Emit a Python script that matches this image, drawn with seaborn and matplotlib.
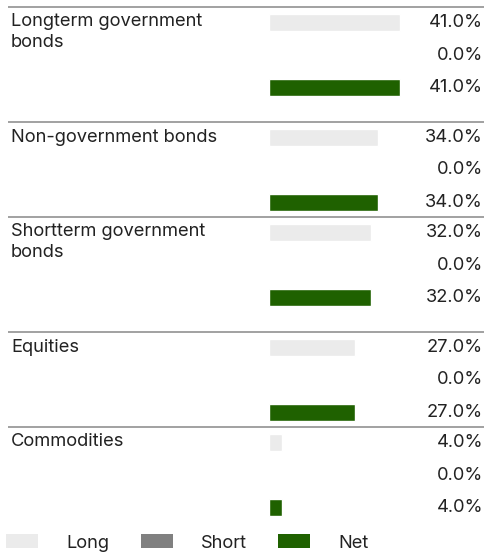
import numpy as np
import pandas as pd
import matplotlib
matplotlib.use("Agg")
import matplotlib.pyplot as plt
import matplotlib.transforms as mtransforms
from matplotlib.patches import Patch
import seaborn as sns

# data
categories = ["Longterm government\nbonds", "Non-government bonds",
              "Shortterm government\nbonds", "Equities", "Commodities"]
long_vals = [41.0, 34.0, 32.0, 27.0, 4.0]
short_vals = [0.0, 0.0, 0.0, 0.0, 0.0]
net_vals = [41.0, 34.0, 32.0, 27.0, 4.0]
series = ["Long", "Short", "Net"]
colors = {"Long": "#ebebeb", "Short": "#808080", "Net": "#1f6100"}

sns.set_style("white")
plt.rcParams["font.family"] = ["Inter", "DejaVu Sans"]
txt_color = "#222222"
fs = 13.2

W, H = 485, 554
fig = plt.figure(figsize=(W / 100, H / 100), dpi=100)

# background axes in pixel units for separators and category labels
bg = fig.add_axes([0, 0, 1, 1])
bg.set_xlim(0, W)
bg.set_ylim(H, 0)
bg.axis("off")

rows = []
tops = []
top = 7
for cat, lv, sv, nv in zip(categories, long_vals, short_vals, net_vals):
    tops.append(top)
    for i, (s, v) in enumerate(zip(series, [lv, sv, nv])):
        rows.append(dict(category=cat, series=s, value=v, ypos=top + 15.5 + 32.5 * i))
    top += 115 if "\n" in cat else 95
df = pd.DataFrame(rows)

for t, cat in zip(tops, categories):
    bg.plot([8, W], [t, t], color="#9a9a9a", lw=1.3, solid_capstyle="butt")
    bg.text(11, t + 6.5, cat, va="top", ha="left", fontsize=fs,
            color=txt_color, linespacing=1.25)

# bar axes: starts at x=269px, 3.2 px per percent
x0 = 269
ax = fig.add_axes([x0 / W, 0, (W - x0) / W, 1])
ax.patch.set_alpha(0)
sns.barplot(data=df, x="value", y="ypos", hue="series", hue_order=series,
            palette=colors, orient="h", native_scale=True, dodge=False,
            width=0.5, saturation=1, legend=False, ax=ax)
# bar thickness 17px
for p in ax.patches:
    c = p.get_y() + p.get_height() / 2
    p.set_height(17)
    p.set_y(c - 8.5)
ax.set_xlim(0, (W - x0) / 3.2)
ax.set_ylim(H, 0)
ax.axis("off")

trans = mtransforms.blended_transform_factory(ax.transAxes, ax.transData)
for _, r in df.iterrows():
    ax.text(1 - 2 / (W - x0), r["ypos"], f"{r['value']:.1f}%", transform=trans,
            ha="right", va="center", fontsize=fs, color=txt_color)

handles = [Patch(facecolor=colors[s], edgecolor="none") for s in series]
fig.legend(handles, series, loc="center left", bbox_to_anchor=(6 / W, 1 - 543 / H),
           ncol=3, frameon=False, fontsize=fs, labelcolor=txt_color,
           handlelength=1.75, handleheight=0.75, handletextpad=1.55,
           columnspacing=1.7, borderpad=0, borderaxespad=0)

fig.savefig("out.png", dpi=100)
